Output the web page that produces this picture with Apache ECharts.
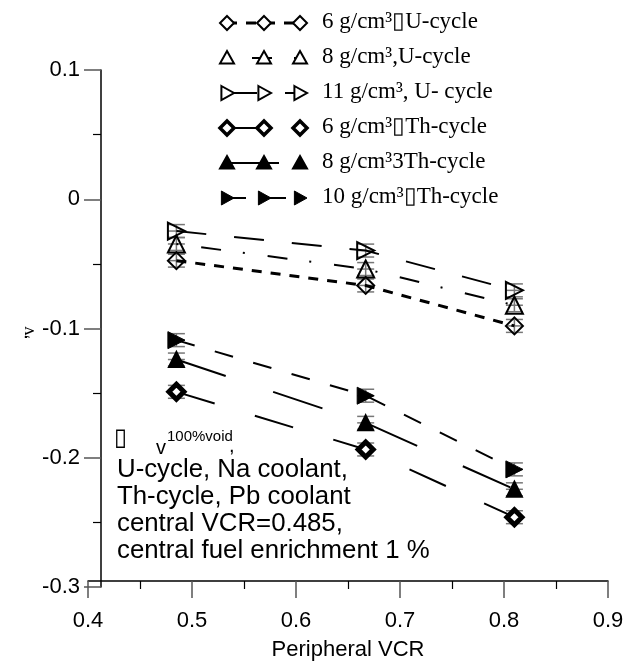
<!DOCTYPE html>
<html><head><meta charset="utf-8">
<script src="https://cdn.jsdelivr.net/npm/echarts@6/dist/echarts.min.js"></script>
<style>html,body{margin:0;padding:0;background:#fff}#c{width:627px;height:666px}</style>
</head><body><div id="c"></div>
<script>
// ---- data ----
const xVCR = [0.485, 0.667, 0.81];
const u6 = [-0.0475, -0.0667, -0.098];
const u8 = [-0.0346, -0.054, -0.082];
const u11 = [-0.0246, -0.0397, -0.0705];
const th6 = [-0.149, -0.1936, -0.246];
const th8 = [-0.124, -0.173, -0.2244];
const th10 = [-0.109, -0.152, -0.209];
const errBar = [0.005, 0.005, 0.005];
const seriesNames = ['6 g/cm³\u25AFU-cycle', '8 g/cm³,U-cycle', '11 g/cm³, U- cycle',
  '6 g/cm³\u25AFTh-cycle', '8 g/cm³3Th-cycle', '10 g/cm³\u25AFTh-cycle'];
const xTickLabels = ['0.4', '0.5', '0.6', '0.7', '0.8', '0.9'];
const yTickLabels = ['-0.3', '-0.2', '-0.1', '0', '0.1'];
const noteLines = ['U-cycle, Na coolant,', 'Th-cycle, Pb coolant', 'central VCR=0.485,', 'central fuel enrichment 1 %'];

// ---- styles ----
const RT = 'path://M0,0L10,5L0,10Z';
const styles = [
  {sym: 'diamond', shape: 'dia', dash: [10, 9], w: 3, fill: 'rgba(0,0,0,0)', legFill: '#fff', bw: 2, size: 17},
  {sym: 'triangle', shape: 'tri', dash: [2, 23, 20, 22], w: 2, fill: 'rgba(0,0,0,0)', legFill: '#fff', bw: 2, size: 17},
  {sym: RT, shape: 'rt', dash: [30, 28], w: 2, fill: 'rgba(0,0,0,0)', legFill: '#fff', bw: 2, size: 17},
  {sym: 'diamond', shape: 'dia', dash: [40, 42], w: 2, fill: '#fff', legFill: '#fff', bw: 5, size: 15},
  {sym: 'triangle', shape: 'tri', dash: [52, 50], w: 2, fill: '#000', legFill: '#000', bw: 2, size: 15},
  {sym: RT, shape: 'rt', dash: [19, 21], w: 2, fill: '#000', legFill: '#000', bw: 1, size: 17}
];
const allY = [u6, u8, u11, th6, th8, th10];
const FONT = 'Liberation Sans, Arial, sans-serif';
const SERIF = 'Liberation Serif, Times New Roman, serif';

const series = [];
allY.forEach((ys, i) => {
  const st = styles[i];
  series.push({
    name: seriesNames[i], type: 'line', z: 3,
    data: xVCR.map((x, k) => [x, ys[k]]),
    symbol: st.sym, symbolSize: st.size,
    lineStyle: {color: '#000', width: st.w, type: st.dash},
    itemStyle: {color: st.fill, borderColor: '#000', borderWidth: st.bw},
    emphasis: {disabled: true}, animation: false
  });
  series.push({
    type: 'custom', z: 2, silent: true, animation: false,
    data: xVCR.map((x, k) => [x, ys[k], errBar[k]]),
    renderItem: function (params, api) {
      const x = api.value(0), y = api.value(1), e = api.value(2);
      const c = api.coord([x, y]);
      const t = api.coord([x, y + e]);
      const b = api.coord([x, y - e]);
      const hw = 8.5;
      const s = {stroke: '#777', lineWidth: 1.5};
      return {type: 'group', children: [
        {type: 'line', shape: {x1: c[0], y1: t[1], x2: c[0], y2: b[1]}, style: s},
        {type: 'line', shape: {x1: c[0] - hw, y1: t[1], x2: c[0] + hw, y2: t[1]}, style: s},
        {type: 'line', shape: {x1: c[0] - hw, y1: b[1], x2: c[0] + hw, y2: b[1]}, style: s},
        {type: 'line', shape: {x1: c[0] - hw, y1: c[1], x2: c[0] + hw, y2: c[1]}, style: s}
      ]};
    }
  });
});

// ---- legend (manual) ----
function shapePts(kind, cx, cy, r) {
  if (kind === 'dia') return [[cx, cy - r], [cx + r, cy], [cx, cy + r], [cx - r, cy]];
  if (kind === 'tri') return [[cx, cy - r], [cx + r, cy + r * 0.8], [cx - r, cy + r * 0.8]];
  return [[cx - r * 0.8, cy - r], [cx + r, cy], [cx - r * 0.8, cy + r]];
}
const graphics = [];
const legX = [227, 264, 300];
seriesNames.forEach((name, i) => {
  const st = styles[i];
  const cy = 23 + 35 * i;
  graphics.push({type: 'line', shape: {x1: legX[0], y1: cy, x2: legX[2], y2: cy},
    style: {stroke: '#000', lineWidth: st.w, lineDash: st.dash}});
  legX.forEach(cx => {
    graphics.push({type: 'polygon', shape: {points: shapePts(st.shape, cx, cy, 7)},
      style: {fill: st.legFill, stroke: '#000', lineWidth: Math.min(st.bw, 3.5)}, z: 10});
  });
  graphics.push({type: 'text', left: 322, top: cy - 13,
    style: {text: name, font: '23px ' + SERIF, fill: '#000'}});
});

// annotation
graphics.push({type: 'text', left: 114, top: 427, style: {text: '\u25AF', font: '24px DejaVu Sans', fill: '#000'}});
graphics.push({type: 'text', left: 156, top: 438, style: {text: 'v', font: '20px ' + FONT, fill: '#000'}});
graphics.push({type: 'text', left: 167, top: 429, style: {text: '100%void', font: '15px ' + FONT, fill: '#000'}});
graphics.push({type: 'text', left: 229, top: 436, style: {text: ',', font: '20px ' + FONT, fill: '#000'}});
noteLines.forEach((t, k) => {
  graphics.push({type: 'text', left: 117, top: 457 + 27 * k, style: {text: t, font: '25.8px ' + FONT, fill: '#000'}});
});
// y axis name (rotated)
graphics.push({type: 'text', x: 21, y: 337, rotation: Math.PI / 2, style: {text: ',', font: '20px ' + FONT, fill: '#000', align: 'center', verticalAlign: 'middle'}});
graphics.push({type: 'text', x: 29, y: 331, rotation: Math.PI / 2, style: {text: 'v', font: '18px ' + SERIF, fill: '#000', align: 'center', verticalAlign: 'middle'}});

const chart = echarts.init(document.getElementById('c'), null, {renderer: 'canvas'});
chart.setOption({
  backgroundColor: '#fff',
  animation: false,
  grid: {left: 88, right: 19, top: 70, bottom: 76},
  xAxis: {
    type: 'value', min: 0.4, max: 0.9, interval: 0.1, offset: -6,
    name: 'Peripheral VCR', nameLocation: 'middle', nameGap: 58,
    nameTextStyle: {fontFamily: FONT, fontSize: 22, color: '#000'},
    axisLine: {onZero: false, lineStyle: {color: '#000', width: 1.5}},
    axisTick: {show: true, inside: false, length: 17, lineStyle: {color: '#555', width: 1.5}},
    minorTick: {show: true, splitNumber: 2, length: 8, lineStyle: {color: '#000', width: 1.2}},
    axisLabel: {margin: 29, fontFamily: FONT, fontSize: 22, color: '#000',
      formatter: v => xTickLabels[Math.round((v - 0.4) * 10)]},
    splitLine: {show: false}
  },
  yAxis: {
    type: 'value', min: -0.3, max: 0.1, interval: 0.1, offset: -13,
    axisLine: {onZero: false, lineStyle: {color: '#000', width: 1.5}},
    axisTick: {show: true, inside: false, length: 17, lineStyle: {color: '#555', width: 1.5}},
    minorTick: {show: true, splitNumber: 2, length: 8, lineStyle: {color: '#000', width: 1.2}},
    axisLabel: {margin: 21, fontFamily: FONT, fontSize: 22, color: '#000',
      formatter: v => yTickLabels[Math.round((v + 0.3) * 10)]},
    splitLine: {show: false}
  },
  graphic: graphics,
  series: series
});
</script></body></html>
